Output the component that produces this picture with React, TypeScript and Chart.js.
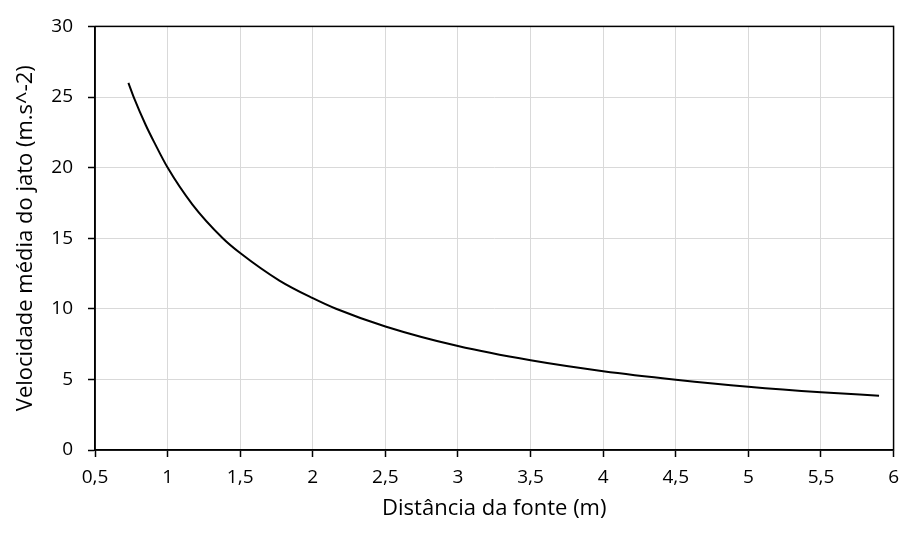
import React, { useEffect, useRef } from "react";
import { Chart, registerables } from "chart.js";

Chart.register(...registerables);

// Distância da fonte (m)
const distancia: number[] = [
  0.73, 0.77, 0.85, 0.91, 1.0, 1.17, 1.38, 1.5, 1.77, 2.0, 2.16, 2.5, 3.0, 3.5,
  4.0, 4.5, 5.0, 5.5, 5.9,
];

// Velocidade média do jato (m.s^-2)
const velocidade: number[] = [
  26.0, 24.9, 23.0, 21.75, 20.0, 17.4, 15.0, 13.95, 12.0, 10.75, 10.0, 8.75,
  7.36, 6.35, 5.58, 4.98, 4.48, 4.09, 3.85,
];

const xTicks: number[] = [0.5, 1, 1.5, 2, 2.5, 3, 3.5, 4, 4.5, 5, 5.5, 6];
const yTicks: number[] = [0, 5, 10, 15, 20, 25, 30];

const FONT = "'Open Sans', 'Noto Sans', sans-serif";
const TICK_SIZE = 19;
const TITLE_SIZE = 22;
const fmt = (v: number) => String(v).replace(".", ",");

// Black frame around the plotting area
const framePlugin = {
  id: "plotFrame",
  beforeDatasetsDraw(chart: Chart) {
    const { ctx, chartArea } = chart;
    ctx.save();
    ctx.strokeStyle = "#000";
    ctx.lineWidth = 1.5;
    ctx.strokeRect(
      chartArea.left,
      chartArea.top,
      chartArea.right - chartArea.left,
      chartArea.bottom - chartArea.top
    );
    ctx.restore();
  },
};

export default function App() {
  const canvasRef = useRef<HTMLCanvasElement | null>(null);

  useEffect(() => {
    document.body.style.margin = "0";
    const canvas = canvasRef.current;
    if (!canvas) return;

    const points = distancia.map((x, i) => ({ x, y: velocidade[i] }));

    const chart = new Chart(canvas, {
      type: "scatter",
      data: {
        datasets: [
          {
            data: points,
            showLine: true,
            borderColor: "#000",
            borderWidth: 2,
            pointRadius: 0,
            cubicInterpolationMode: "monotone",
            fill: false,
          },
        ],
      },
      options: {
        responsive: false,
        animation: false,
        events: [],
        layout: { padding: { top: 22, right: 10, left: 0, bottom: 0 } },
        plugins: {
          legend: { display: false },
          tooltip: { enabled: false },
        },
        scales: {
          x: {
            type: "linear",
            min: xTicks[0],
            max: xTicks[xTicks.length - 1],
            afterBuildTicks: (scale: any) => {
              scale.ticks = xTicks.map((value) => ({ value }));
            },
            afterFit: (scale: any) => {
              scale.height = 83;
            },
            ticks: {
              callback: (v: any) => fmt(Number(v)),
              color: "#000",
              font: { family: FONT, size: TICK_SIZE },
              padding: 9,
              maxRotation: 0,
              autoSkip: false,
            },
            grid: {
              color: "#d9d9d9",
              lineWidth: 1,
              tickColor: "#000",
              tickLength: 7,
              tickWidth: 1.5,
            },
            border: { color: "#000", width: 1.5 },
            title: {
              display: true,
              text: "Distância da fonte (m)",
              color: "#000",
              font: { family: FONT, size: TITLE_SIZE },
              padding: { top: 0, bottom: 11 },
            },
          },
          y: {
            type: "linear",
            min: yTicks[0],
            max: yTicks[yTicks.length - 1],
            afterBuildTicks: (scale: any) => {
              scale.ticks = yTicks.map((value) => ({ value }));
            },
            afterFit: (scale: any) => {
              scale.width = 95;
            },
            ticks: {
              callback: (v: any) => fmt(Number(v)),
              color: "#000",
              font: { family: FONT, size: TICK_SIZE },
              padding: 15,
              autoSkip: false,
            },
            grid: {
              color: "#d9d9d9",
              lineWidth: 1,
              tickColor: "#000",
              tickLength: 7,
              tickWidth: 1.5,
            },
            border: { color: "#000", width: 1.5 },
            title: {
              display: true,
              text: "Velocidade média do jato (m.s^-2)",
              color: "#000",
              font: { family: FONT, size: TITLE_SIZE },
              padding: { top: 13, bottom: 0 },
            },
          },
        },
      },
      plugins: [framePlugin],
    });

    return () => chart.destroy();
  }, []);

  return (
    <div style={{ width: 908, height: 533 }}>
      <canvas ref={canvasRef} width={908} height={533} style={{ display: "block" }} />
    </div>
  );
}
